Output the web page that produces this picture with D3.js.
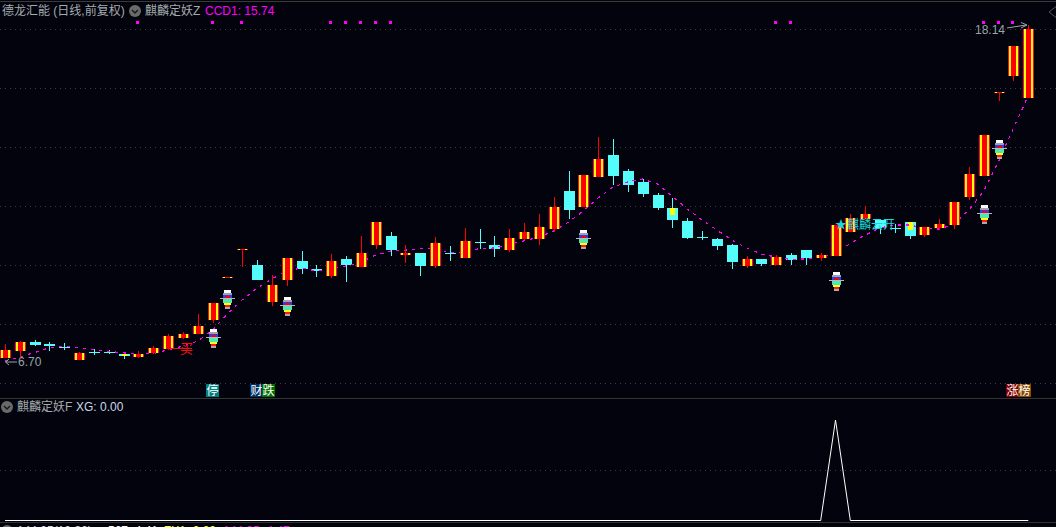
<!DOCTYPE html>
<html>
<head>
<meta charset="utf-8">
<script src="https://cdn.jsdelivr.net/npm/d3@7"></script>
<style>
  html, body { margin: 0; padding: 0; background: #03030d; overflow: hidden; }
  text { font-family: "Liberation Sans", "Noto Sans CJK SC", sans-serif; font-size: 12px; }
  .cjk { font-family: "Liberation Sans", "Noto Sans CJK SC", sans-serif; font-size: 12px; }
</style>
</head>
<body>
<svg id="chart"></svg>
<script>
let width = 1056, height = 527;

// daily candles, one entry per session
let opens = [6.84,7.07,7.39,7.31,7.21,6.77,7.04,7.04,6.97,6.87,7.01,7.14,7.51,7.65,8.13,9.57,10.50,9.99,8.74,9.48,
  10.13,9.86,9.62,10.20,9.93,10.67,10.98,10.33,10.40,9.96,10.40,10.23,10.77,10.67,10.50,10.88,10.88,11.21,12.51,11.96,
  12.98,13.73,13.18,12.81,12.37,11.93,11.49,10.94,10.88,10.67,9.96,10.20,9.99,10.33,10.50,10.23,10.30,11.11,11.56,11.52,
  11.25,11.45,11.01,11.25,11.35,12.30,13.01,15.83,16.41,15.66];
let closes = [7.11,7.38,7.28,7.24,7.18,7.01,7.01,7.01,6.90,6.97,7.18,7.58,7.65,7.92,8.70,9.59,10.54,9.48,9.31,10.23,
  9.86,9.79,10.13,9.98,10.40,11.45,10.50,10.40,9.96,10.74,10.37,10.81,10.74,10.54,10.91,11.11,11.28,11.96,11.86,13.05,
  13.59,13.01,12.71,12.40,11.93,11.52,10.91,10.91,10.64,10.09,10.20,10.03,10.26,10.16,10.23,10.33,11.35,11.59,11.72,11.25,
  11.21,10.98,11.28,11.39,12.13,13.08,14.41,15.87,17.43,18.00];
let highs = [7.31,7.41,7.45,7.38,7.35,7.04,7.14,7.11,7.04,7.07,7.24,7.65,7.72,8.33,8.70,9.59,10.54,10.16,9.65,10.23,
  10.47,9.99,10.37,10.30,10.98,11.45,11.11,10.67,10.40,10.94,10.64,11.25,11.21,10.98,11.21,11.42,11.72,12.30,13.18,13.05,
  14.34,14.27,13.25,12.91,12.44,12.27,11.59,11.15,10.91,10.71,10.30,10.20,10.33,10.40,10.50,10.40,11.35,11.72,11.99,11.52,
  11.39,11.45,11.28,11.56,12.13,13.32,14.41,15.87,17.43,18.14];
let lows = [6.84,6.87,7.24,7.07,7.11,6.77,6.94,6.97,6.80,6.84,6.97,7.11,7.48,7.65,8.03,9.57,9.93,9.48,8.60,9.28,
  9.69,9.59,9.55,9.42,9.93,10.54,10.30,10.06,9.62,9.89,10.13,10.23,10.54,10.26,10.43,10.84,10.67,11.11,11.56,11.96,
  12.98,12.71,12.47,12.30,11.86,11.25,10.88,10.84,10.50,9.86,9.89,9.96,9.99,9.99,9.99,10.13,10.30,11.11,11.56,11.05,
  11.08,10.88,10.94,11.18,11.21,12.20,13.01,15.56,16.24,15.66];
let ccd1 = [6.73,6.87,7.02,7.18,7.23,7.19,7.11,7.06,7.01,6.96,6.99,7.11,7.24,7.41,7.79,8.33,8.81,9.21,9.52,9.79,
  9.89,9.79,9.86,9.96,10.09,10.33,10.47,10.50,10.54,10.57,10.40,10.43,10.55,10.57,10.71,10.81,10.94,11.15,11.45,11.83,
  12.27,12.64,12.81,12.91,12.74,12.33,11.89,11.52,11.18,10.84,10.57,10.37,10.26,10.18,10.20,10.25,10.43,10.72,11.01,11.25,
  11.35,11.35,11.25,11.21,11.39,11.86,12.50,13.52,14.64,15.74];

// overlays
let gridTicks = [18, 16, 14, 12, 10, 8, 6];
let dotIdx = [9, 14, 16, 22, 23, 24, 25, 26, 52, 53, 66, 67, 68];
let iconIdx = [14, 15, 19, 39, 56, 66, 67];
let iconPrice = [7.82, 9.15, 8.91, 11.18, 9.75, 12.03, 14.24];
let yellowIdx = [8, 45, 61];
let yellowLow = [6.90, 11.69, 11.18];
let xgIdx = [0, 55, 56, 57, 69];
let xgVal = [0, 0, 1, 0, 0];

let x = d3.scaleLinear().domain([0, 69]).range([5, 1028.3]);
let y = d3.scaleLinear().domain([6.70, 18.14]).range([362, 25]);
let ySub = d3.scaleLinear().domain([0, 1]).range([520.5, 420]);

let svg = d3.select("#chart")
  .attr("width", width)
  .attr("height", height)
  .attr("viewBox", `0 0 ${width} ${height}`)
  .style("display", "block");

svg.append("rect").attr("width", width).attr("height", height).attr("fill", "#03030d");

// panel frame
[[1, "#3a3a3a"], [398, "#333333"], [522, "#333333"]].forEach(d => {
  svg.append("rect").attr("x", 0).attr("y", d[0]).attr("width", width).attr("height", 1).attr("fill", d[1]);
});

// dotted grids
function grid(scale, ticks) {
  let g = svg.append("g")
    .call(d3.axisLeft(scale).tickValues(ticks).tickSize(-width).tickFormat(""));
  g.select(".domain").remove();
  g.selectAll("line")
    .attr("stroke", "#3c3c3c")
    .attr("stroke-dasharray", "1 4")
    .attr("shape-rendering", "crispEdges");
}
grid(y, gridTicks);
grid(ySub, [0.5]);

let idx = d3.range(opens.length);
let isUp = i => closes[i] >= opens[i];
let cx = i => Math.round(x(i));

function drawWicks(g, list, color) {
  g.selectAll(null).data(list).join("rect")
    .attr("x", cx)
    .attr("width", 1)
    .attr("y", i => Math.round(y(highs[i])))
    .attr("height", i => Math.max(1, Math.round(y(lows[i])) - Math.round(y(highs[i]))))
    .attr("fill", color);
}
function bodyTop(i) { return Math.round(y(Math.max(opens[i], closes[i]))); }
function bodyH(i) { return Math.max(1, Math.round(y(Math.min(opens[i], closes[i]))) - bodyTop(i)); }

// falling candles
let downs = idx.filter(i => !isUp(i));
let gDown = svg.append("g").attr("shape-rendering", "crispEdges");
drawWicks(gDown, downs, "#54fcfc");
gDown.selectAll(null).data(downs).join("rect")
  .attr("x", i => cx(i) - 5)
  .attr("width", 11)
  .attr("y", bodyTop)
  .attr("height", bodyH)
  .attr("fill", "#54fcfc");
gDown.selectAll(null).data(yellowIdx).join("rect")
  .attr("x", i => cx(i) - 2)
  .attr("width", 5)
  .attr("y", bodyTop)
  .attr("height", (i, k) => Math.round(y(yellowLow[k])) - bodyTop(i))
  .attr("fill", "#ffff00");

// CCD1 dashed line
svg.append("path")
  .datum(ccd1)
  .attr("d", d3.line().x((d, i) => x(i)).y(d => y(d)))
  .attr("fill", "none")
  .attr("stroke", "#ff00ff")
  .attr("stroke-width", 1.2)
  .attr("stroke-dasharray", "3 5")
  .attr("shape-rendering", "crispEdges");

// rising candles: pink edge, yellow band, red core
let ups = idx.filter(isUp);
let gUp = svg.append("g").attr("shape-rendering", "crispEdges");
drawWicks(gUp, ups, "#ff0000");
[[5, 11, "#ff0060"], [4, 9, "#ffff00"], [2, 5, "#ff0000"]].forEach(s => {
  gUp.selectAll(null).data(ups).join("rect")
    .attr("x", i => cx(i) - s[0])
    .attr("width", s[1])
    .attr("y", bodyTop)
    .attr("height", bodyH)
    .attr("fill", s[2]);
});

// top signal dots
svg.append("g").attr("shape-rendering", "crispEdges")
  .selectAll("rect").data(dotIdx).join("rect")
  .attr("x", i => cx(i) - 2)
  .attr("y", 21)
  .attr("width", 3)
  .attr("height", 3)
  .attr("fill", "#ff00ff");

// little rocket icon
let iconRows = [
  [0, 3, 7, "#ffffff"], [3, 2, 9, "#a0a0b0"], [5, 5, 9, "#3040e0"], [6, 3, 5, "#f00020"],
  [8, 1, 15, "#b8b8b8"], [9, 4, 9, "#50e8b0"], [13, 2, 7, "#ffff20"], [15, 2, 5, "#ff2000"], [17, 2, 5, "#b0a8a8"]
];
let icons = svg.append("g").attr("shape-rendering", "crispEdges")
  .selectAll("g").data(iconIdx).join("g")
  .attr("transform", (d, k) => `translate(${cx(d)},${Math.round(y(iconPrice[k]))})`);
iconRows.forEach(r => {
  icons.append("rect")
    .attr("x", -Math.floor(r[2] / 2))
    .attr("y", r[0])
    .attr("width", r[2])
    .attr("height", r[1])
    .attr("fill", r[3]);
});

// buy mark
svg.append("rect").attr("x", 171).attr("y", Math.round(y(7.18))).attr("width", 21).attr("height", 1)
  .attr("fill", "#f01010").attr("shape-rendering", "crispEdges");
svg.append("text").attr("class", "cjk").attr("x", 186.5).attr("y", 353).attr("text-anchor", "middle")
  .attr("fill", "#f01010").style("font-size", "13px").text("买");

// teal label over the candles
svg.append("text").attr("class", "cjk").attr("x", 835).attr("y", 229)
  .attr("fill", "#18d8d8").text("★麒麟云开");

// high / low notes
let noteColor = "#9aa4a8";
svg.append("text").attr("x", 18).attr("y", 366).attr("fill", noteColor).text("6.70");
svg.append("path").attr("d", "M17 362H6M9 359L5.5 362L9 365").attr("fill", "none").attr("stroke", noteColor);
svg.append("text").attr("x", 975).attr("y", 34).attr("fill", noteColor).text("18.14");
svg.append("path").attr("d", `M1007 28L1026 ${y(18.14)}M1021 22.5L1027 ${y(18.14)}L1021 28`).attr("fill", "none").attr("stroke", noteColor);

// event tags
let tagText = ["停", "财", "跌", "涨", "榜"];
let tagIdx = [14, 17, 18, 68, 69];
let tagColor = ["#008080", "#003060", "#007000", "#800000", "#8a4a00"];
let tagLeft = [206, 250, 262, 1006, 1018];
let tags = svg.append("g").selectAll("g").data(tagIdx).join("g")
  .attr("transform", (d, k) => `translate(${tagLeft[k]},384)`);
tags.append("rect").attr("width", 13).attr("height", 13).attr("fill", (d, k) => tagColor[k]);
tags.append("text").attr("class", "cjk").attr("x", 6.5).attr("y", 11).attr("text-anchor", "middle")
  .attr("fill", "#ffffff").text((d, k) => tagText[k]);

// XG sub chart
svg.append("path")
  .datum(xgIdx)
  .attr("d", d3.line().x(i => x(i)).y((i, k) => ySub(xgVal[k])))
  .attr("fill", "none")
  .attr("stroke", "#ffffff")
  .attr("stroke-width", 1);

// header texts
function chevron(cxp, cyp) {
  svg.append("circle").attr("cx", cxp).attr("cy", cyp).attr("r", 6).attr("fill", "#6a6a6a");
  svg.append("path").attr("d", `M${cxp - 3} ${cyp - 1}L${cxp} ${cyp + 2}L${cxp + 3} ${cyp - 1}`)
    .attr("fill", "none").attr("stroke", "#1a1a1a").attr("stroke-width", 1.5);
}
let headColor = "#a4acb0";
svg.append("text").attr("class", "cjk").attr("x", 2).attr("y", 15).attr("fill", headColor).text("德龙汇能 (日线,前复权)");
chevron(135, 11);
svg.append("text").attr("class", "cjk").attr("x", 145).attr("y", 15).attr("fill", headColor).text("麒麟定妖Z");
svg.append("text").attr("x", 205).attr("y", 15).attr("fill", "#ff00ff").text("CCD1: 15.74");
chevron(7, 407);
svg.append("text").attr("class", "cjk").attr("x", 17).attr("y", 411).attr("fill", headColor).text("麒麟定妖F");
svg.append("text").attr("x", 76).attr("y", 411).attr("fill", "#c8d8e8").text("XG: 0.00");

// bottom indicator row, only the tops of the glyphs are in frame
chevron(7, 531);
svg.append("text").attr("x", 17).attr("y", 535).attr("fill", "#c8d8e8").text("144.05(12.36)");
svg.append("text").attr("x", 108).attr("y", 535).attr("fill", "#ffffff").text("567: 4.41");
svg.append("text").attr("x", 164).attr("y", 535).attr("fill", "#ffff00").text("ZX1: 0.00");
svg.append("text").attr("x", 223).attr("y", 535).attr("fill", "#ff00ff").text("144.05: 4.47");

// corner mark
svg.append("path").attr("d", "M1056 6.5L1049 12L1056 17.5").attr("fill", "none").attr("stroke", "#555");
</script>
</body>
</html>
